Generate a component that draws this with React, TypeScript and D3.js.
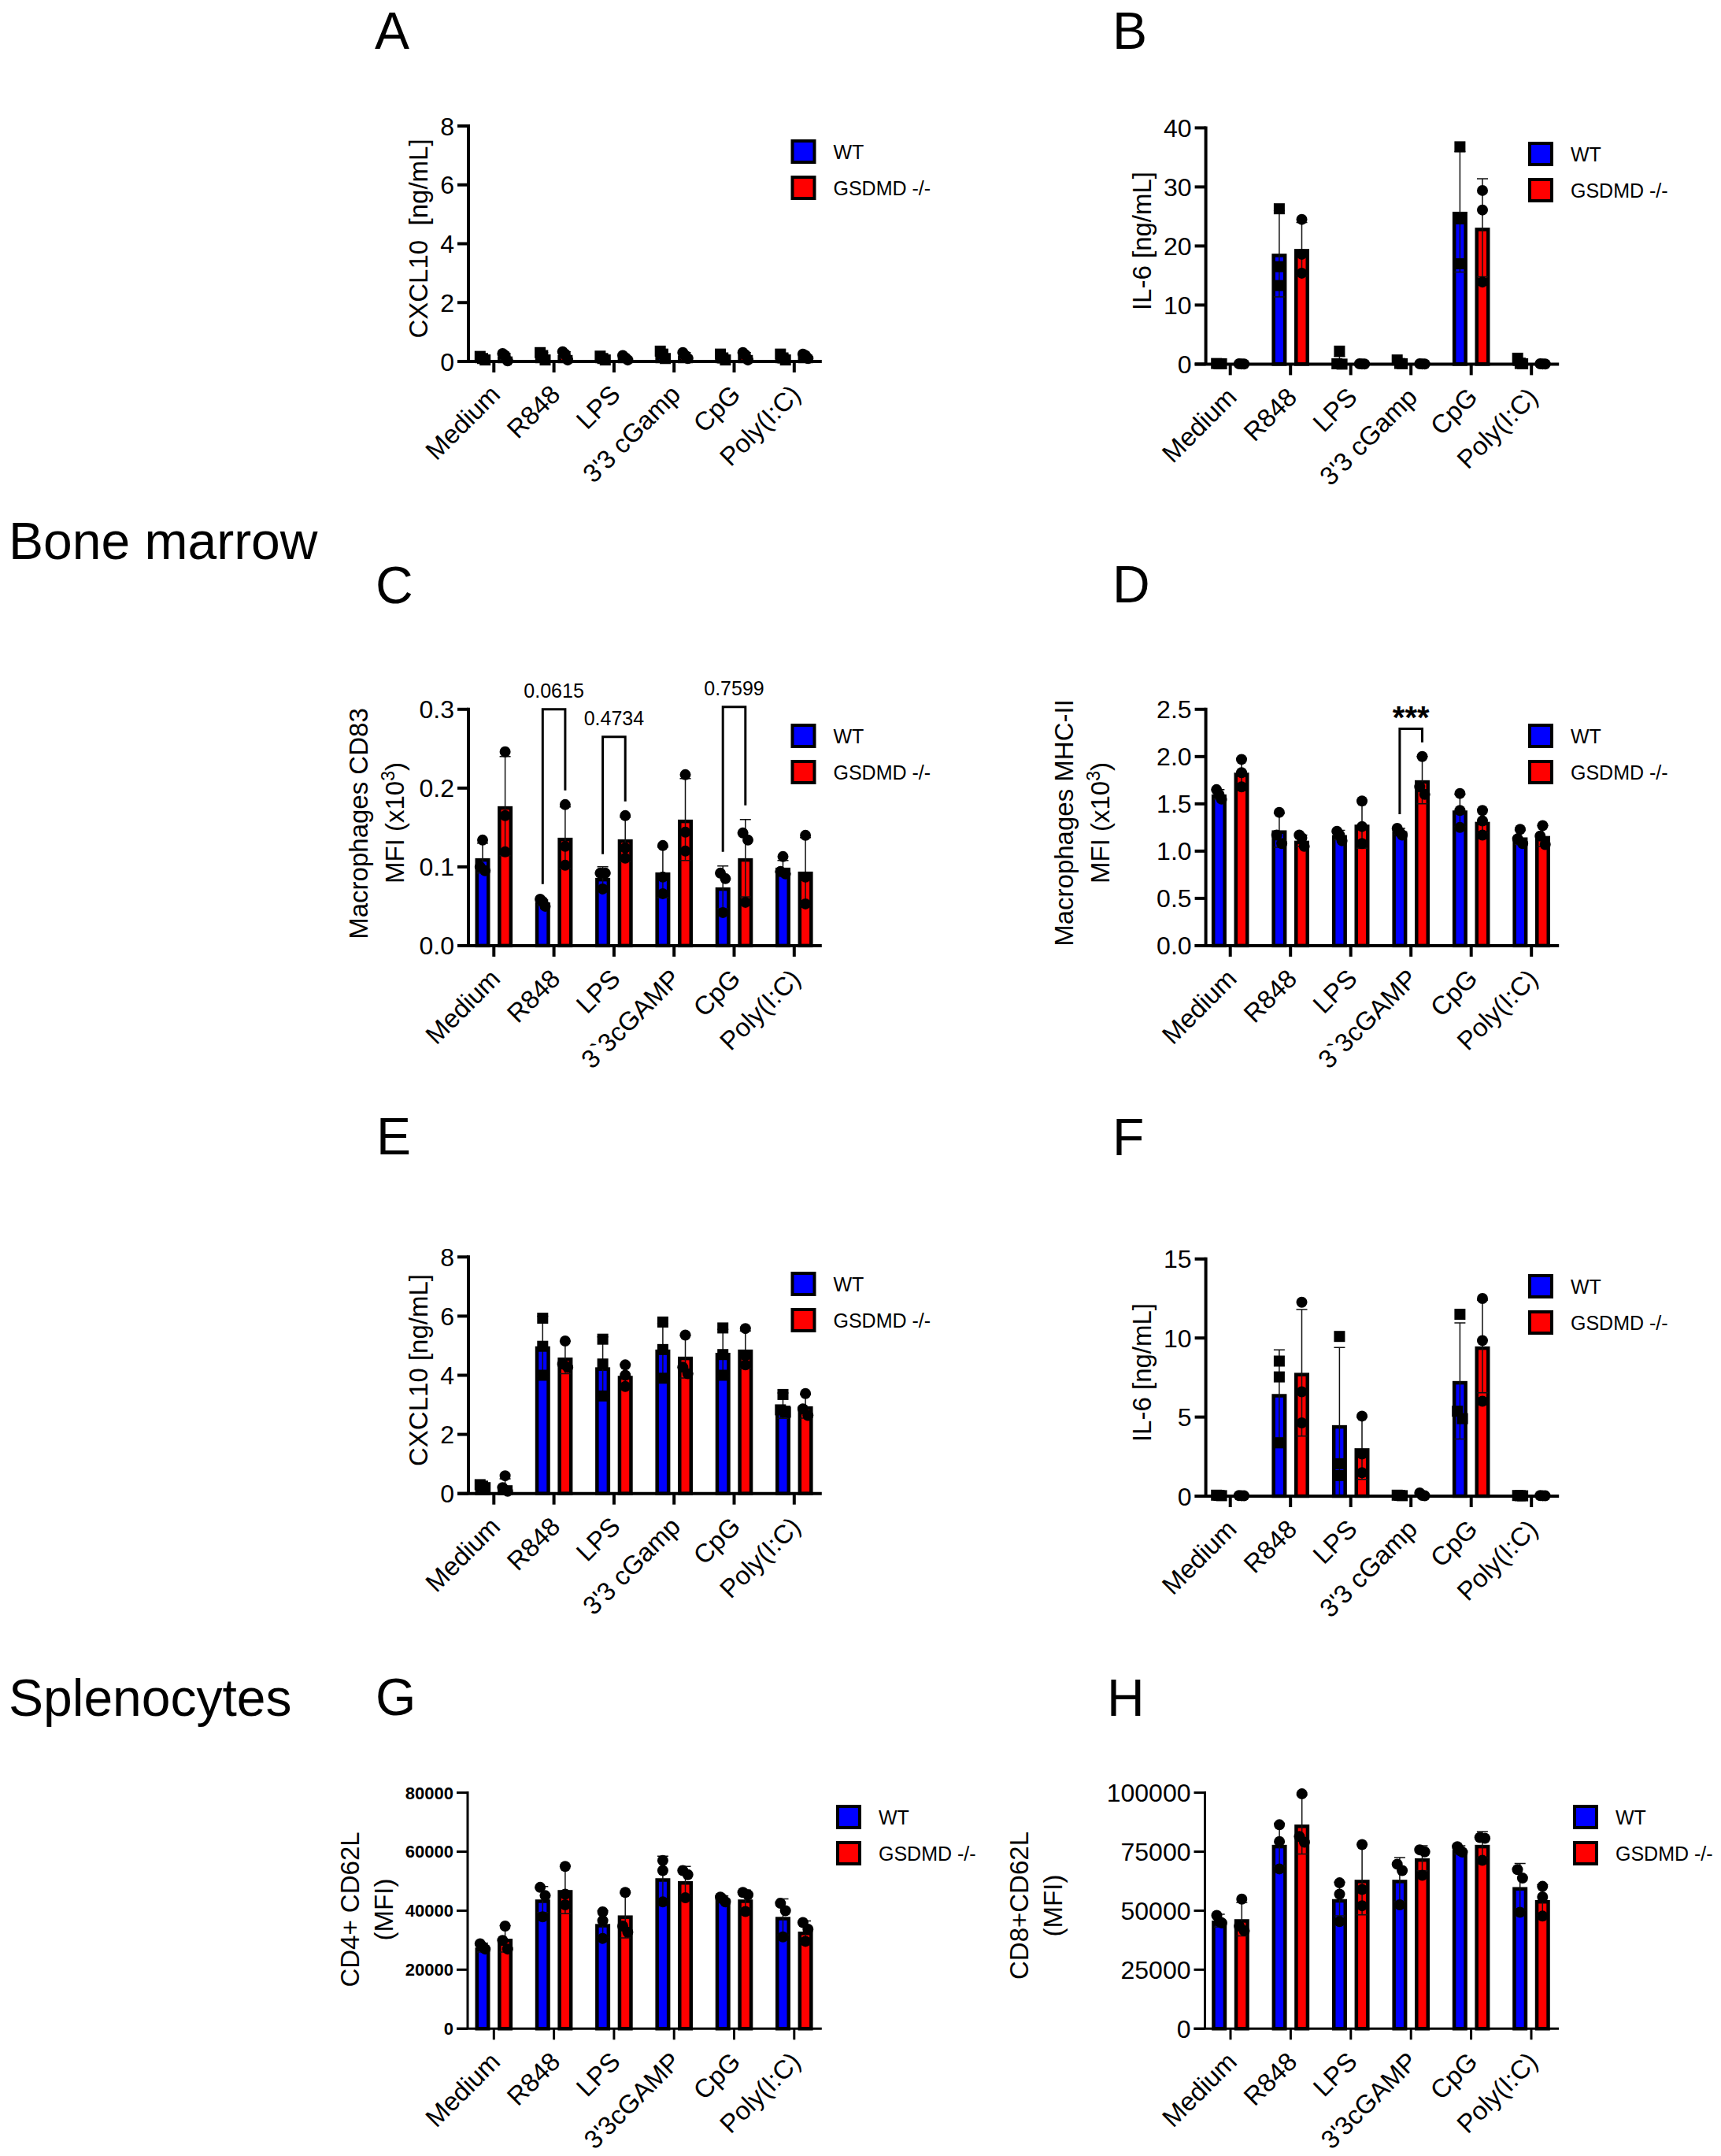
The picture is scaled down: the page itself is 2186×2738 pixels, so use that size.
// GSDMD knockout panels A-H: grouped bars with SD whiskers and replicate points.
import { scaleBand, scaleLinear, scalePoint } from "d3";

const FONT = "'Liberation Sans', Arial, sans-serif";
const BLUE = "#0000ff";
const RED = "#ff0000";

const seriesNames = ["WT", "GSDMD -/-"];
const catsCamp = ["Medium", "R848", "LPS", "3'3 cGamp", "CpG", "Poly(I:C)"];
const catsBacktick = ["Medium", "R848", "LPS", "3`3cGAMP", "CpG", "Poly(I:C)"];
const catsGamp = ["Medium", "R848", "LPS", "3'3cGAMP", "CpG", "Poly(I:C)"];

// Panel A, CXCL10 bone marrow
const aTicks = ["0", "2", "4", "6", "8"];
const aWtMean = [0.12, 0.2, 0.12, 0.25, 0.17, 0.17];
const aKoMean = [0.17, 0.22, 0.13, 0.2, 0.22, 0.18];
const aWtTop = [0.17, 0.3, 0.18, 0.35, 0.25, 0.25];
const aKoTop = [0.27, 0.33, 0.2, 0.3, 0.3, 0.25];
const aWtPts = [[0.17, 0.1, 0.05], [0.3, 0.2, 0.05], [0.18, 0.1, 0.05], [0.35, 0.25, 0.1], [0.25, 0.12, 0.05], [0.25, 0.12, 0.05]];
const aKoPts = [[0.27, 0.2, 0.02], [0.33, 0.25, 0.05], [0.2, 0.13, 0.05], [0.3, 0.2, 0.1], [0.3, 0.22, 0.05], [0.25, 0.2, 0.1]];

// Panel B, IL-6 bone marrow
const bTicks = ["0", "10", "20", "30", "40"];
const bWtMean = [0.1, 18.7, 0.7, 0.3, 25.8, 0.4];
const bKoMean = [0.05, 19.5, 0.05, 0.05, 23.1, 0.05];
const bWtTop = [0.2, 26, 1.3, 0.7, 36, 1];
const bKoTop = [0.1, 24, 0.1, 0.1, 31.4, 0.1];
const bWtPts = [[0.1, 0.05, 0.05], [26.3, 16.5, 13.3], [2.2, 0.05, 0], [0.7, 0.1, 0.05], [36.8, 24.6, 17], [1, 0.1, 0.05]];
const bKoPts = [[0.05, 0.03, 0.02], [24.5, 18.6, 15.4], [0.05, 0.03, 0.02], [0.05, 0.03, 0.02], [29.4, 26.1, 13.9], [0.05, 0.03, 0.02]];

// Panel C, macrophage CD83
const cTicks = ["0.0", "0.1", "0.2", "0.3"];
const cWtMean = [0.111, 0.055, 0.086, 0.093, 0.074, 0.099];
const cKoMean = [0.177, 0.137, 0.135, 0.16, 0.111, 0.094];
const cWtTop = [0.13, 0.058, 0.1, 0.125, 0.101, 0.108];
const cKoTop = [0.24, 0.176, 0.163, 0.212, 0.16, 0.137];
const cWtPts = [[0.134, 0.1, 0.095], [0.059, 0.056, 0.05], [0.092, 0.092, 0.072], [0.127, 0.087, 0.066], [0.092, 0.085, 0.042], [0.113, 0.094, 0.091]];
const cKoPts = [[0.246, 0.165, 0.119], [0.179, 0.126, 0.102], [0.165, 0.124, 0.111], [0.217, 0.144, 0.12], [0.143, 0.134, 0.055], [0.14, 0.087, 0.053]];
const cBrackets = [
  { group: 1, top: 0.3, leftEnd: 0.078, rightEnd: 0.197, label: "0.0615" },
  { group: 2, top: 0.265, leftEnd: 0.116, rightEnd: 0.183, label: "0.4734" },
  { group: 4, top: 0.303, leftEnd: 0.119, rightEnd: 0.178, label: "0.7599" },
];

// Panel D, macrophage MHC-II
const dTicks = ["0.0", "0.5", "1.0", "1.5", "2.0", "2.5"];
const dWtMean = [1.6, 1.22, 1.17, 1.21, 1.43, 1.145];
const dKoMean = [1.83, 1.11, 1.28, 1.75, 1.31, 1.16];
const dWtTop = [1.65, 1.4, 1.22, 1.24, 1.6, 1.22];
const dKoTop = [1.98, 1.17, 1.53, 2.0, 1.43, 1.27];
const dWtPts = [[1.65, 1.6, 1.55], [1.41, 1.17, 1.08], [1.21, 1.17, 1.11], [1.24, 1.2, 1.17], [1.61, 1.43, 1.25], [1.23, 1.13, 1.08]];
const dKoPts = [[1.97, 1.83, 1.68], [1.17, 1.14, 1.05], [1.53, 1.26, 1.08], [2.0, 1.68, 1.6], [1.43, 1.32, 1.17], [1.27, 1.16, 1.07]];
const dBrackets = [{ group: 3, top: 2.294, leftEnd: 1.39, rightEnd: 2.15, label: "***" }];

// Panel E, CXCL10 splenocytes
const eTicks = ["0", "2", "4", "6", "8"];
const eWtMean = [0.25, 4.98, 4.27, 4.87, 4.76, 2.97];
const eKoMean = [0.28, 4.6, 3.98, 4.63, 4.87, 2.95];
const eWtTop = [0.34, 6.0, 5.3, 5.75, 5.55, 3.4];
const eKoTop = [0.5, 5.15, 4.35, 5.35, 5.5, 3.35];
const eWtPts = [[0.3, 0.25, 0.2], [5.93, 4.98, 4.0], [5.22, 4.38, 3.3], [5.8, 4.87, 3.9], [5.6, 4.7, 4.0], [3.35, 2.83, 2.75]];
const eKoPts = [[0.6, 0.2, 0.08], [5.16, 4.38, 4.27], [4.35, 4.0, 3.62], [5.36, 4.27, 4.05], [5.58, 4.67, 4.35], [3.38, 2.86, 2.64]];

// Panel F, IL-6 splenocytes
const fTicks = ["0", "5", "10", "15"];
const fWtMean = [0.05, 6.46, 4.49, 0.05, 7.28, 0.03];
const fKoMean = [0.03, 7.8, 3.03, 0.08, 9.47, 0.03];
const fWtTop = [0.06, 9.25, 9.4, 0.06, 10.95, 0.04];
const fKoTop = [0.04, 11.8, 5.0, 0.15, 12.4, 0.04];
const fWtPts = [[0.06, 0.05, 0.03], [8.54, 7.54, 3.37], [10.1, 2.05, 1.3], [0.06, 0.05, 0.03], [11.5, 5.37, 4.9], [0.04, 0.03, 0.02]];
const fKoPts = [[0.04, 0.03, 0.02], [12.26, 6.6, 4.63], [5.06, 2.66, 1.48], [0.2, 0.05, 0.02], [12.5, 9.84, 6.0], [0.04, 0.03, 0.02]];

// Panel G, CD4+ CD62L
const gTicks = ["0", "20000", "40000", "60000", "80000"];
const gWtMean = [27500, 43800, 35500, 51000, 44000, 37900];
const gKoMean = [30500, 47000, 38400, 50000, 43800, 32900];
const gWtTop = [29000, 48200, 40000, 58500, 45000, 44000];
const gKoTop = [35000, 55000, 46000, 55000, 47000, 36500];
const gWtPts = [[28800, 27800, 27000], [47900, 45100, 37900], [39600, 36600, 30600], [57000, 53600, 43000], [44600, 43900, 43000], [42500, 40000, 31100]];
const gKoPts = [[34800, 29900, 27000], [55000, 45600, 42000], [46200, 34800, 32700], [53600, 52200, 44400], [46200, 45400, 39700], [36000, 33700, 29600]];

// Panel H, CD8+ CD62L
const hTicks = ["0", "25000", "50000", "75000", "100000"];
const hWtMean = [45800, 77900, 54900, 63100, 75800, 60000];
const hKoMean = [46400, 86500, 63100, 72200, 77900, 54500];
const hWtTop = [48500, 87000, 62000, 72500, 77500, 70000];
const hKoTop = [53500, 99000, 78000, 77500, 83500, 61000];
const hWtPts = [[48000, 45400, 44800], [86400, 79300, 67700], [61800, 57000, 45400], [69700, 67000, 52500], [77100, 75500, 74800], [67400, 63800, 49300]];
const hKoPts = [[54900, 43500, 41500], [99500, 81400, 79000], [78000, 59000, 52100], [75800, 74900, 65000], [81000, 80700, 71300], [60300, 55800, 47700]];

type Bracket = { group: number; top: number; leftEnd: number; rightEnd: number; label: string };

type PanelDef = {
  letter: string; letterX: number; letterY: number;
  axisX: number; y0: number; yTop: number; firstTick: number; step: number;
  cats: string[]; ticks: string[];
  wtMean: number[]; koMean: number[]; wtTop: number[]; koTop: number[];
  wtPts: number[][]; koPts: number[][];
  wtSquare?: boolean; thin?: boolean; tickBold?: boolean;
  legendX: number; legendY: number;
  yLabel: { text: string; x: number; y: number; sup?: boolean }[];
  brackets?: Bracket[];
};

const panels: PanelDef[] = [
  {
    letter: "A", letterX: 476, letterY: 62, axisX: 595, y0: 459, yTop: 160, firstTick: 627.3, step: 76.3,
    cats: catsCamp, ticks: aTicks, wtMean: aWtMean, koMean: aKoMean, wtTop: aWtTop, koTop: aKoTop, wtPts: aWtPts, koPts: aKoPts,
    wtSquare: true, legendX: 1004.5, legendY: 177,
    yLabel: [{ text: "CXCL10\u00a0\u00a0[ng/mL]", x: 543, y: 303 }],
  },
  {
    letter: "B", letterX: 1413, letterY: 62, axisX: 1531.6, y0: 462.4, yTop: 162.4, firstTick: 1562.7, step: 76.5,
    cats: catsCamp, ticks: bTicks, wtMean: bWtMean, koMean: bKoMean, wtTop: bWtTop, koTop: bKoTop, wtPts: bWtPts, koPts: bKoPts,
    wtSquare: true, legendX: 1941, legendY: 180,
    yLabel: [{ text: "IL-6 [ng/mL]", x: 1462, y: 306 }],
  },
  {
    letter: "C", letterX: 477, letterY: 766, axisX: 595, y0: 1200.9, yTop: 900.8, firstTick: 627.3, step: 76.3,
    cats: catsBacktick, ticks: cTicks, wtMean: cWtMean, koMean: cKoMean, wtTop: cWtTop, koTop: cKoTop, wtPts: cWtPts, koPts: cKoPts,
    legendX: 1004.5, legendY: 919, brackets: cBrackets,
    yLabel: [{ text: "Macrophages CD83", x: 467, y: 1046 }, { text: "MFI (x10", x: 513, y: 1045, sup: true }],
  },
  {
    letter: "D", letterX: 1413, letterY: 765, axisX: 1531.6, y0: 1200.9, yTop: 900.8, firstTick: 1562.7, step: 76.5,
    cats: catsBacktick, ticks: dTicks, wtMean: dWtMean, koMean: dKoMean, wtTop: dWtTop, koTop: dKoTop, wtPts: dWtPts, koPts: dKoPts,
    legendX: 1941, legendY: 919, brackets: dBrackets,
    yLabel: [{ text: "Macrophages MHC-II", x: 1363, y: 1045 }, { text: "MFI (x10", x: 1408.5, y: 1045, sup: true }],
  },
  {
    letter: "E", letterX: 478, letterY: 1466, axisX: 595, y0: 1896.7, yTop: 1596.3, firstTick: 627.3, step: 76.3,
    cats: catsCamp, ticks: eTicks, wtMean: eWtMean, koMean: eKoMean, wtTop: eWtTop, koTop: eKoTop, wtPts: eWtPts, koPts: eKoPts,
    wtSquare: true, legendX: 1004.5, legendY: 1615,
    yLabel: [{ text: "CXCL10 [ng/mL]", x: 543, y: 1740 }],
  },
  {
    letter: "F", letterX: 1413, letterY: 1467, axisX: 1531.6, y0: 1900, yTop: 1598.8, firstTick: 1562.7, step: 76.5,
    cats: catsCamp, ticks: fTicks, wtMean: fWtMean, koMean: fKoMean, wtTop: fWtTop, koTop: fKoTop, wtPts: fWtPts, koPts: fKoPts,
    wtSquare: true, legendX: 1941, legendY: 1618,
    yLabel: [{ text: "IL-6 [ng/mL]", x: 1462, y: 1743 }],
  },
  {
    letter: "G", letterX: 477, letterY: 2178, axisX: 594, y0: 2576.3, yTop: 2276.6, firstTick: 627.3, step: 76.3,
    cats: catsGamp, ticks: gTicks, wtMean: gWtMean, koMean: gKoMean, wtTop: gWtTop, koTop: gKoTop, wtPts: gWtPts, koPts: gKoPts,
    thin: true, tickBold: true, legendX: 1062, legendY: 2292,
    yLabel: [{ text: "CD4+ CD62L", x: 456, y: 2425 }, { text: "(MFI)", x: 499, y: 2425 }],
  },
  {
    letter: "H", letterX: 1406, letterY: 2179, axisX: 1530.5, y0: 2576.3, yTop: 2276.6, firstTick: 1563, step: 76.4,
    cats: catsGamp, ticks: hTicks, wtMean: hWtMean, koMean: hKoMean, wtTop: hWtTop, koTop: hKoTop, wtPts: hWtPts, koPts: hKoPts,
    thin: true, legendX: 1998, legendY: 2292,
    yLabel: [{ text: "CD8+CD62L", x: 1306, y: 2420 }, { text: "(MFI)", x: 1348.6, y: 2420 }],
  },
];

const sideLabels = [
  { text: "Bone marrow", x: 11, y: 710 },
  { text: "Splenocytes", x: 11, y: 2179 },
];

// prism-style nudge: replicates that would overlap sit side by side
function dodge(pxs: number[]) {
  const order = pxs.map((p, i) => ({ p, i })).sort((a, b) => a.p - b.p);
  const out = pxs.map(() => 0);
  let start = 0;
  for (let k = 1; k <= order.length; k++) {
    if (k === order.length || order[k].p - order[k - 1].p > 11) {
      const n = k - start;
      for (let j = 0; j < n; j++) {
        out[order[start + j].i] = n === 1 ? 0 : -3.2 + (6.4 * j) / (n - 1);
      }
      start = k;
    }
  }
  return out;
}

function Panel({ def }: { def: PanelDef }) {
  const { axisX, y0, yTop, firstTick, step, cats, ticks } = def;
  const lw = def.thin ? 3 : 4;
  const xEnd = firstTick + 5 * step + 35;
  const x = scaleBand<string>()
    .domain(cats)
    .range([firstTick - step / 2, firstTick + 5.5 * step]);
  const dx = scalePoint<string>().domain(seriesNames).range([-14.3, 14.3]);
  const y = scaleLinear()
    .domain([0, Number(ticks[ticks.length - 1])])
    .range([y0, yTop]);
  const center = (c: string) => (x(c) ?? 0) + x.bandwidth() / 2;
  const r = 7;

  const series = [
    { name: seriesNames[0], color: BLUE, mean: def.wtMean, top: def.wtTop, pts: def.wtPts, square: !!def.wtSquare },
    { name: seriesNames[1], color: RED, mean: def.koMean, top: def.koTop, pts: def.koPts, square: false },
  ];

  return (
    <g fontFamily={FONT} fill="#000">
      <text x={def.letterX} y={def.letterY} fontSize={66}>{def.letter}</text>

      {def.yLabel.map((l) => (
        <text key={l.text} transform={`translate(${l.x},${l.y}) rotate(-90)`} textAnchor="middle" fontSize={33}>
          {l.text}
          {l.sup && <tspan dy={-12} fontSize={23}>3</tspan>}
          {l.sup && <tspan dy={12}>)</tspan>}
        </text>
      ))}

      {/* bars, whiskers and replicates */}
      {series.map((s) => (
        <g key={s.name}>
          {cats.map((c, i) => {
            const cx = center(c) + (dx(s.name) ?? 0);
            const mean = s.mean[i];
            const low = 2 * mean - s.top[i];
            const offs = dodge(s.pts[i].map((v) => y(v)));
            const barTop = y(mean);
            return (
              <g key={c}>
                <rect x={cx - 7.25} y={barTop + 2.25} width={14.5} height={Math.max(0, y0 - barTop - 2.25)} fill={s.color} stroke="#000" strokeWidth={4.5} />
                <path
                  d={`M${cx},${y(s.top[i])}V${y(Math.max(low, 0))}M${cx - 7},${y(s.top[i])}H${cx + 7}M${cx - 7},${y(Math.max(low, 0))}H${cx + 7}`}
                  stroke="#111"
                  strokeWidth={1.5}
                  fill="none"
                />
                {s.pts[i].map((v, j) =>
                  s.square ? (
                    <rect key={j} x={cx + offs[j] - r} y={y(v) - r} width={2 * r} height={2 * r} fill="#000" />
                  ) : (
                    <circle key={j} cx={cx + offs[j]} cy={y(v)} r={r} fill="#000" />
                  ),
                )}
              </g>
            );
          })}
        </g>
      ))}

      {/* axes */}
      <path d={`M${axisX},${yTop - lw / 2}V${y0}`} stroke="#000" strokeWidth={lw} fill="none" />
      <path d={`M${axisX - 14},${y0}H${xEnd}`} stroke="#000" strokeWidth={lw} fill="none" />
      {ticks.map((t) => (
        <g key={t}>
          <path d={`M${axisX - 14},${y(Number(t))}H${axisX}`} stroke="#000" strokeWidth={lw} />
          <text
            x={axisX - 18}
            y={y(Number(t))}
            dy="0.36em"
            textAnchor="end"
            fontSize={def.tickBold ? 22 : 32}
            fontWeight={def.tickBold ? 700 : 400}
          >
            {t}
          </text>
        </g>
      ))}
      {cats.map((c) => (
        <g key={c}>
          <path d={`M${center(c)},${y0}V${y0 + 14}`} stroke="#000" strokeWidth={lw} />
          <text transform={`translate(${center(c) + 10},${y0 + 44}) rotate(-45)`} textAnchor="end" fontSize={33}>
            {c}
          </text>
        </g>
      ))}

      {/* significance brackets */}
      {def.brackets?.map((b) => {
        const c = cats[b.group];
        const xl = center(c) + (dx(seriesNames[0]) ?? 0);
        const xr = center(c) + (dx(seriesNames[1]) ?? 0);
        const stars = b.label === "***";
        return (
          <g key={b.label}>
            <path d={`M${xl},${y(b.leftEnd)}V${y(b.top)}H${xr}V${y(b.rightEnd)}`} stroke="#000" strokeWidth={3} fill="none" />
            <text
              x={center(c)}
              y={y(b.top) - (stars ? 1 : 15)}
              textAnchor="middle"
              fontSize={stars ? 40 : 25}
              fontWeight={stars ? 700 : 400}
            >
              {b.label}
            </text>
          </g>
        );
      })}

      {/* legend */}
      {series.map((s, i) => (
        <g key={s.name} transform={`translate(${def.legendX},${def.legendY + i * 46})`}>
          <rect x={2} y={2} width={28} height={27} fill={s.color} stroke="#000" strokeWidth={4} />
          <text x={54} y={15.5} dy="0.36em" fontSize={25}>{s.name}</text>
        </g>
      ))}
    </g>
  );
}

export default function App() {
  return (
    <svg
      width={2186}
      height={2738}
      viewBox="0 0 2186 2738"
      style={{ position: "absolute", left: 0, top: 0, display: "block", background: "#fff" }}
    >
      {sideLabels.map((l) => (
        <text key={l.text} x={l.x} y={l.y} fontFamily={FONT} fontSize={66} fill="#000">{l.text}</text>
      ))}
      {panels.map((p) => (
        <Panel key={p.letter} def={p} />
      ))}
    </svg>
  );
}
